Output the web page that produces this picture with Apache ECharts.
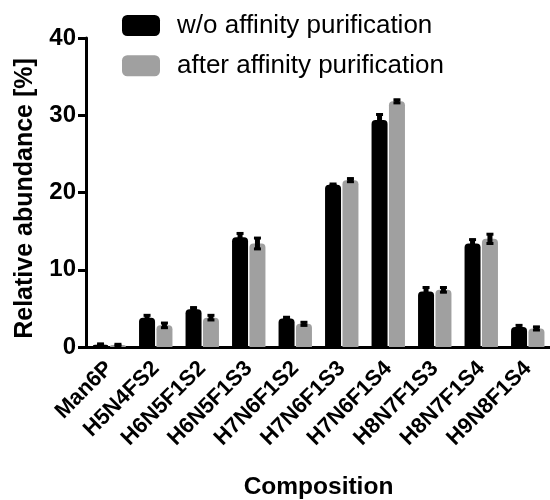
<!DOCTYPE html>
<html>
<head>
<meta charset="utf-8">
<script src="https://cdn.jsdelivr.net/npm/echarts@6/dist/echarts.min.js"></script>
<style>html,body{margin:0;padding:0;background:#fff;}#c{width:550px;height:500px;}</style>
</head>
<body>
<div id="c"></div>
<script>
var categories = ['Man6P','H5N4FS2','H6N5F1S2','H6N5F1S3','H7N6F1S2','H7N6F1S3','H7N6F1S4','H8N7F1S3','H8N7F1S4','H9N8F1S4'];
var seriesNames = ['w/o affinity purification','after affinity purification'];
var withoutMeans = [0.3, 3.8, 4.9, 14.2, 3.7, 21.0, 29.4, 7.2, 13.4, 2.6];
var withoutErrors = [0.1, 0.3, 0.2, 0.5, 0.15, 0.1, 0.7, 0.5, 0.5, 0.2];
var afterMeans = [0.25, 2.8, 3.8, 13.4, 3.0, 21.6, 31.8, 7.4, 14.0, 2.4];
var afterErrors = [0.1, 0.3, 0.3, 0.7, 0.2, 0.2, 0.2, 0.3, 0.6, 0.2];
var yTicks = [0, 10, 20, 30, 40];

var FONT = 'Arial, "Liberation Sans", sans-serif';
var BAR_W = 16, GAP = 1.4;

function errSeries(means, errs, offset) {
  var data = means.map(function (m, i) { return [i, m, errs[i]]; });
  return {
    type: 'custom',
    silent: true,
    z: 5,
    data: data,
    renderItem: function (params, api) {
      var i = api.value(0), m = api.value(1), e = api.value(2);
      var top = api.coord([i, m + e]);
      var bot = api.coord([i, Math.max(0, m - e)]);
      var x = top[0] + offset;
      return {
        type: 'group',
        children: [
          { type: 'rect', shape: { x: x - 2.5, y: top[1] - 1, width: 5, height: bot[1] - top[1] + 2 }, style: { fill: '#000' } },
          { type: 'rect', shape: { x: x - 3.5, y: top[1] - 1.5, width: 7, height: 3 }, style: { fill: '#000' } },
          { type: 'rect', shape: { x: x - 3.5, y: bot[1] - 1.5, width: 7, height: 3 }, style: { fill: '#000' } }
        ]
      };
    }
  };
}

var chart = echarts.init(document.getElementById('c'), null, { renderer: 'canvas' });
chart.setOption({
  animation: false,
  backgroundColor: '#fff',
  legend: {
    orient: 'vertical',
    left: 122,
    top: 12.5,
    padding: 0,
    itemWidth: 38,
    itemHeight: 21,
    itemGap: 14.3,
    icon: 'roundRect',
    data: seriesNames,
    textStyle: { fontFamily: FONT, fontSize: 26, lineHeight: 21, color: '#000', padding: [0, 0, 0, 12] }
  },
  grid: { left: 86, top: 38, width: 465, bottom: 153, containLabel: false, outerBoundsMode: 'none' },
  xAxis: {
    type: 'category',
    data: categories,
    name: 'Composition',
    nameLocation: 'middle',
    nameGap: 128,
    nameTextStyle: { fontFamily: FONT, fontSize: 24.5, fontWeight: 'bold', color: '#000' },
    axisLine: { lineStyle: { color: '#000', width: 3 } },
    axisTick: { alignWithLabel: true, length: 8, lineStyle: { color: '#000', width: 3 } },
    axisLabel: { rotate: 45, fontFamily: FONT, fontSize: 22, fontWeight: 'bold', color: '#000', margin: 18 }
  },
  yAxis: {
    type: 'value',
    min: yTicks[0],
    max: yTicks[yTicks.length - 1],
    interval: yTicks[1] - yTicks[0],
    name: 'Relative abundance [%]',
    nameLocation: 'middle',
    nameGap: 48,
    nameRotate: 90,
    nameTextStyle: { fontFamily: FONT, fontSize: 25, fontWeight: 'bold', color: '#000', padding: [0, 12, 0, 0] },
    axisLine: { show: true, lineStyle: { color: '#000', width: 3 } },
    axisTick: { show: true, length: 8, lineStyle: { color: '#000', width: 3 } },
    axisLabel: { fontFamily: FONT, fontSize: 24, fontWeight: 'bold', color: '#000', margin: 10 },
    splitLine: { show: false }
  },
  series: [
    { name: seriesNames[0], type: 'bar', data: withoutMeans, barWidth: BAR_W, barGap: (GAP / BAR_W * 100) + '%',
      itemStyle: { color: '#000', borderRadius: [4, 4, 0, 0] } },
    { name: seriesNames[1], type: 'bar', data: afterMeans, barWidth: BAR_W,
      itemStyle: { color: '#a0a0a0', borderRadius: [4, 4, 0, 0] } },
    errSeries(withoutMeans, withoutErrors, -(BAR_W + GAP) / 2),
    errSeries(afterMeans, afterErrors, (BAR_W + GAP) / 2)
  ]
});
</script>
</body>
</html>
